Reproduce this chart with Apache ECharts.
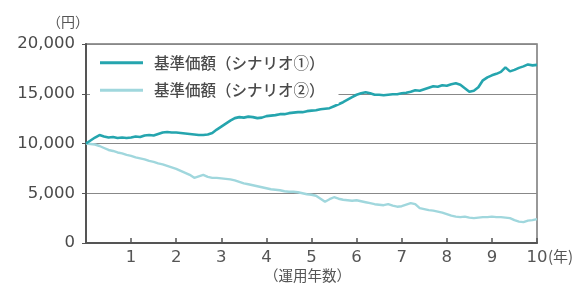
<!DOCTYPE html>
<html>
<head>
<meta charset="utf-8">
<script src="https://cdn.jsdelivr.net/npm/echarts@6/dist/echarts.min.js"></script>
<style>
  html, body { margin: 0; padding: 0; background: #fff; }
  #chart { width: 584px; height: 287px; }
</style>
</head>
<body>
<div id="chart"></div>
<script>
// 運用年数 (0.1年刻み)
var years = [];
for (var i = 0; i <= 100; i++) years.push(i / 10);

// 基準価額(シナリオ①)
var scenario1 = [
  10000, 10300, 10600, 10850, 10700, 10600, 10650, 10550, 10600, 10550,
  10600, 10700, 10650, 10800, 10850, 10800, 10950, 11100, 11150, 11100,
  11100, 11050, 11000, 10950, 10900, 10850, 10850, 10900, 11050, 11400,
  11700, 12000, 12300, 12550, 12650, 12600, 12700, 12650, 12550, 12600,
  12750, 12800, 12850, 12950, 12950, 13050, 13100, 13150, 13150, 13250,
  13300, 13350, 13450, 13500, 13550, 13750, 13950, 14150, 14400, 14650,
  14900, 15050, 15150, 15050, 14900, 14900, 14850, 14900, 14950, 14950,
  15050, 15100, 15200, 15350, 15300, 15450, 15600, 15750, 15700, 15850,
  15800, 15950, 16050, 15900, 15550, 15200, 15300, 15650, 16350, 16650,
  16850, 17000, 17200, 17650, 17250, 17400, 17600, 17750, 17950, 17850,
  17900
];

// 基準価額(シナリオ②)
var scenario2 = [
  10000, 9950, 9900, 9750, 9550, 9350, 9250, 9100, 9000, 8850,
  8750, 8600, 8500, 8400, 8250, 8150, 8000, 7900, 7750, 7600,
  7450, 7250, 7050, 6850, 6550, 6700, 6850, 6650, 6550, 6550,
  6500, 6450, 6400, 6300, 6150, 6000, 5900, 5800, 5700, 5600,
  5500, 5400, 5350, 5300, 5200, 5150, 5150, 5100, 5000, 4900,
  4850, 4750, 4450, 4150, 4400, 4600, 4450, 4350, 4300, 4250,
  4300, 4200, 4100, 4000, 3900, 3850, 3800, 3900, 3750, 3650,
  3700, 3850, 4000, 3900, 3500, 3400, 3300, 3250, 3150, 3050,
  2900, 2750, 2650, 2600, 2650, 2550, 2500, 2550, 2600, 2600,
  2650, 2600, 2600, 2550, 2500, 2300, 2150, 2100, 2250, 2300,
  2400
];

var seriesNames = ['基準価額（シナリオ①）', '基準価額（シナリオ②）'];
var yTicks = [0, 5000, 10000, 15000, 20000];

function pairs(vals) {
  return vals.map(function (v, i) { return [years[i], v]; });
}

var chart = echarts.init(document.getElementById('chart'));
var numFont = '"DejaVu Sans", sans-serif';
var jpFont = '"Noto Sans CJK JP", sans-serif';

chart.setOption({
  backgroundColor: '#fff',
  animation: false,
  grid: {
    left: 86, right: 47, top: 44, bottom: 44,
    show: true, borderColor: '#777', borderWidth: 1.5,
    backgroundColor: 'transparent'
  },
  legend: {
    orient: 'vertical',
    left: 90, top: 53,
    padding: [2, 14, 6, 10],
    backgroundColor: '#fff',
    itemWidth: 43, itemHeight: 3,
    itemGap: 12,
    icon: 'rect',
    textStyle: { fontSize: 15.5, color: '#4a4a4a', fontFamily: jpFont, fontWeight: 500, padding: [0, 0, 0, 6] },
    data: seriesNames
  },
  xAxis: {
    type: 'value', min: 0, max: 10, interval: 1,
    axisLine: { show: true, lineStyle: { color: '#555', width: 2 } },
    axisTick: { show: true, inside: true, length: 5, lineStyle: { color: '#555', width: 1.5 } },
    axisLabel: {
      fontSize: 16.5, color: '#555', margin: 6, fontFamily: numFont,
      formatter: function (v) { return v === 0 ? '' : String(v); }
    },
    splitLine: { show: false }
  },
  yAxis: {
    type: 'value', min: yTicks[0], max: yTicks[yTicks.length - 1], interval: 5000,
    axisLine: { show: true, lineStyle: { color: '#555', width: 2 } },
    axisTick: { show: true, inside: false, length: 4, lineStyle: { color: '#555' } },
    axisLabel: {
      fontSize: 16.5, color: '#4a4a4a', margin: 11, fontFamily: numFont,
      formatter: function (v) { return v.toLocaleString('en-US'); }
    },
    splitLine: { show: true, lineStyle: { color: '#888', width: 1 } }
  },
  graphic: [
    { type: 'text', left: 47, top: 15, style: { text: '（円）', fill: '#555', font: '14px ' + jpFont } },
    { type: 'text', left: 548, top: 249, style: { text: '(年)', fill: '#555', font: '15px ' + jpFont } },
    { type: 'text', left: 264, top: 268, style: { text: '（運用年数）', fill: '#555', font: '14.5px ' + jpFont } }
  ],
  series: [
    {
      name: seriesNames[0], type: 'line', data: pairs(scenario1),
      showSymbol: false, z: 3,
      lineStyle: { color: '#25a5ae', width: 2.6 },
      itemStyle: { color: '#25a5ae' }
    },
    {
      name: seriesNames[1], type: 'line', data: pairs(scenario2),
      showSymbol: false, z: 2,
      lineStyle: { color: '#a0d7dd', width: 2.4 },
      itemStyle: { color: '#a0d7dd' }
    }
  ]
});
</script>
</body>
</html>
